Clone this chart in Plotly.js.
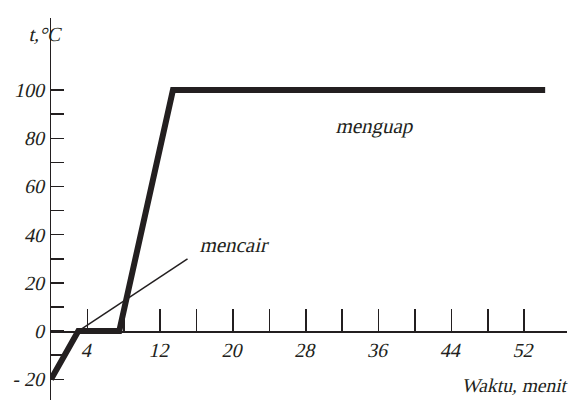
<!DOCTYPE html>
<html>
<head>
<meta charset="utf-8">
<script src="https://cdn.plot.ly/plotly-3.0.1.min.js"></script>
<style>html,body{margin:0;padding:0;background:#fff;}#chart{width:572px;height:400px;}</style>
</head>
<body>
<div id="chart"></div>
<script>
// Heating curve: time (minutes) vs temperature (°C)
const timeMin = [0, 3, 7.5, 13.4, 54.3];
const tempC = [-20, 0, 0, 100, 100];
// Thin "mencair" guide line
const guideX = [3, 15];
const guideY = [0, 30];
// Ticks
const xTickVals = [4, 8, 12, 16, 20, 24, 28, 32, 36, 40, 44, 48, 52];
const xTickText = ["4", "", "12", "", "20", "", "28", "", "36", "", "44", "", "52"];
const yTickVals = [-20, 0, 20, 40, 60, 80, 100];
const yTickText = ["- 20", "0", "20", "40", "60", "80", "100"];
const yMinorVals = [-10, 10, 30, 50, 70, 90];
// Labels
const labelMencair = "mencair";
const labelMenguap = "menguap";
const xTitle = "Waktu, menit";
const yTitle = "t,°C";

const ink = "#231f20";
const serif = "Liberation Serif";

const traces = [
  {x: guideX, y: guideY, mode: "lines", line: {color: ink, width: 1.5}, hoverinfo: "skip", cliponaxis: false},
  {x: timeMin, y: tempC, mode: "lines", line: {color: ink, width: 6}, hoverinfo: "skip", cliponaxis: false}
];

const layout = {
  width: 572, height: 400,
  margin: {l: 51, r: 5, t: 18, b: 0, pad: 0},
  paper_bgcolor: "#fff", plot_bgcolor: "#fff",
  showlegend: false,
  font: {family: serif, color: ink},
  xaxis: {
    range: [0, 56.7], anchor: "free", position: 28.6 / 158.5,
    showline: true, linecolor: ink, linewidth: 1.5,
    showgrid: false, zeroline: false,
    tickmode: "array", tickvals: xTickVals, ticktext: xTickText,
    ticks: "inside", ticklen: 22, tickwidth: 1.5, tickcolor: ink,
    tickfont: {family: serif, size: 20, color: ink}
  },
  yaxis: {
    range: [-28.6, 129.9],
    showline: true, linecolor: ink, linewidth: 1.5,
    showgrid: false, zeroline: false,
    tickmode: "array", tickvals: yTickVals, ticktext: yTickText,
    ticks: "inside", ticklen: 13, tickwidth: 1.5, tickcolor: ink,
    minor: {tickmode: "array", tickvals: yMinorVals, ticks: "inside", ticklen: 13, tickwidth: 1.5, tickcolor: ink, showgrid: false},
    tickfont: {family: serif, size: 20, color: ink}
  },
  annotations: [
    {x: 20.2, y: 35.7, xref: "x", yref: "y", text: labelMencair, showarrow: false,
     font: {family: serif, size: 21, color: ink}},
    {x: 35.7, y: 85.1, xref: "x", yref: "y", text: labelMenguap, showarrow: false,
     font: {family: serif, size: 21, color: ink}},
    {x: 51.0, y: -22.4, xref: "x", yref: "y", text: xTitle, showarrow: false,
     font: {family: serif, size: 19.5, color: ink}},
    {x: -0.045, y: (400 - 21) / 382, xref: "paper", yref: "paper", text: yTitle, showarrow: false,
     font: {family: serif, size: 20, color: ink}}
  ]
};

// No italic serif face is installed, so slant the real text elements (oblique) after drawing.
Plotly.newPlot("chart", traces, layout, {staticPlot: true, displayModeBar: false}).then(function (gd) {
  gd.querySelectorAll("svg text").forEach(function (t) {
    if (!t.textContent) return;
    const b = t.getBBox();
    const cx = b.x + b.width / 2, cy = b.y + b.height / 2;
    const prev = t.getAttribute("transform") || "";
    t.setAttribute("transform", prev + " translate(" + cx + "," + cy + ") skewX(-13) translate(" + (-cx) + "," + (-cy) + ")");
  });
});
</script>
</body>
</html>
